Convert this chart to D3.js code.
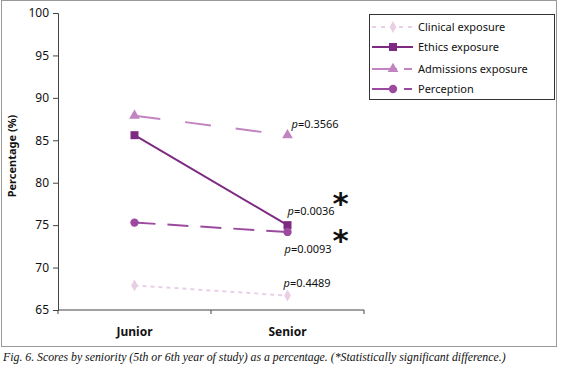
<!DOCTYPE html>
<html lang="en">
<head>
    <meta charset="UTF-8">
    <title>Scores by seniority</title>
    <script src="https://d3js.org/d3.v7.min.js"></script>
    <style>
        body {
            margin: 0;
            background: #fff;
            font-family: "Noto Sans", Arial, sans-serif;
        }
        .caption {
            font-family: "Liberation Serif", "DejaVu Serif", serif;
            font-style: italic;
            font-size: 11.8px;
        }
    </style>
</head>
<body>
    <div id="chart"></div>
    <script>
        // Data
        const groups = ["Junior", "Senior"];
        const seriesNames = ["Clinical exposure", "Ethics exposure", "Admissions exposure", "Perception"];
        const clinical = [67.9, 66.7];
        const ethics = [85.6, 75.0];
        const admissions = [87.9, 85.6];
        const perception = [75.3, 74.2];
        const pValues = ["0.4489", "0.0036", "0.3566", "0.0093"];
        const significant = [false, true, false, true];
        const yTicks = [65, 70, 75, 80, 85, 90, 95, 100];

        const series = [
            { name: seriesNames[0], values: clinical, color: "#e8cfe5", dash: "4,4", legendDash: "4,5", symbol: d3.symbolDiamond, size: 40, width: 2 },
            { name: seriesNames[1], values: ethics, color: "#7d2a82", dash: null, legendDash: null, symbol: d3.symbolSquare, size: 64, width: 2 },
            { name: seriesNames[2], values: admissions, color: "#c184c1", dash: "26,25", legendDash: "25,7,8", symbol: d3.symbolTriangle, size: 50, width: 2 },
            { name: seriesNames[3], values: perception, color: "#9c4a9f", dash: "21,12", legendDash: "25,7,8", symbol: d3.symbolCircle, size: 55, width: 2 }
        ];

        const W = 562, H = 371;
        const margin = { top: 13, left: 58, right: 198, bottom: 61 };
        const plotW = W - margin.left - margin.right;  // 306
        const plotH = H - margin.top - margin.bottom;  // 297

        const svg = d3.select("#chart").append("svg")
            .attr("width", W)
            .attr("height", H);

        // outer frame
        svg.append("rect")
            .attr("x", 1.5).attr("y", 0.5)
            .attr("width", 555).attr("height", 346)
            .attr("fill", "none")
            .attr("stroke", "#999")
            .attr("stroke-width", 1);

        const g = svg.append("g")
            .attr("transform", `translate(${margin.left},${margin.top})`);

        const x = d3.scaleBand().domain(groups).range([0, plotW]);
        const y = d3.scaleLinear().domain([65, 100]).range([plotH, 0]);
        const cx = d => x(d) + x.bandwidth() / 2;

        // y axis
        const yAxis = g.append("g")
            .call(d3.axisLeft(y).tickValues(yTicks).tickSize(5).tickPadding(4));
        yAxis.select(".domain").attr("stroke", "#444");
        yAxis.selectAll(".tick line").attr("stroke", "#444");
        yAxis.selectAll("text")
            .style("font-family", "'Noto Sans', sans-serif")
            .style("font-size", "12px")
            .attr("fill", "#111");

        // x axis: ticks at band boundaries
        const xAxis = g.append("g")
            .attr("transform", `translate(0,${plotH})`);
        xAxis.append("line")
            .attr("x1", 0).attr("x2", plotW)
            .attr("stroke", "#444");
        const bounds = [0, ...groups.map(d => x(d) + x.bandwidth())];
        xAxis.selectAll(".btick")
            .data(bounds)
            .enter().append("line")
            .attr("x1", d => d).attr("x2", d => d)
            .attr("y1", 0).attr("y2", 4)
            .attr("stroke", "#444");
        xAxis.selectAll(".xlabel")
            .data(groups)
            .enter().append("text")
            .attr("x", d => cx(d))
            .attr("y", 26)
            .attr("text-anchor", "middle")
            .style("font-size", "12px")
            .style("font-weight", "bold")
            .attr("fill", "#111")
            .text(d => d);

        // y label
        g.append("text")
            .attr("transform", "rotate(-90)")
            .attr("x", -143)
            .attr("y", -42)
            .attr("text-anchor", "middle")
            .style("font-size", "11px")
            .style("font-weight", "bold")
            .attr("fill", "#111")
            .text("Percentage (%)");

        // lines and markers
        const line = d3.line()
            .x((d, i) => cx(groups[i]))
            .y(d => y(d));

        series.forEach(s => {
            g.append("path")
                .datum(s.values)
                .attr("d", line)
                .attr("fill", "none")
                .attr("stroke", s.color)
                .attr("stroke-width", s.width)
                .attr("stroke-dasharray", s.dash);
            g.selectAll(null)
                .data(s.values)
                .enter().append("path")
                .attr("d", d3.symbol().type(s.symbol).size(s.size))
                .attr("transform", (d, i) => `translate(${cx(groups[i])},${y(d)})`)
                .attr("fill", s.color);
        });

        // p-value annotations at Senior
        const pOffsets = [[-4, -9], [0, -10], [4, -7], [-3, 21]];
        series.forEach((s, i) => {
            const px = cx("Senior") + pOffsets[i][0];
            const py = y(s.values[1]) + pOffsets[i][1];
            const t = g.append("text")
                .attr("x", px)
                .attr("y", py)
                .style("font-size", "11px")
                .attr("fill", "#111");
            t.append("tspan").style("font-style", "italic").text("p");
            t.append("tspan").text("=" + pValues[i]);
            if (significant[i]) {
                g.append("text")
                    .attr("x", cx("Senior") + 45)
                    .attr("y", py - 1.5)
                    .style("font-size", "31px")
                    .style("font-weight", "bold")
                    .style("font-family", "'DejaVu Sans', sans-serif")
                    .attr("fill", "#111")
                    .text("*");
            }
        });

        // legend
        const legend = svg.append("g").attr("transform", "translate(369,14)");
        legend.append("rect")
            .attr("x", 0.5).attr("y", 0.5)
            .attr("width", 185).attr("height", 85)
            .attr("fill", "#fff")
            .attr("stroke", "#333");
        const rowY = [13, 33, 55, 75];
        series.forEach((s, i) => {
            const row = legend.append("g").attr("transform", `translate(0,${rowY[i]})`);
            row.append("line")
                .attr("x1", 3).attr("x2", 44)
                .attr("stroke", s.color)
                .attr("stroke-width", s.width)
                .attr("stroke-dasharray", s.legendDash);
            row.append("path")
                .attr("d", d3.symbol().type(s.symbol).size(s.size))
                .attr("transform", "translate(24,0)")
                .attr("fill", s.color);
            row.append("text")
                .attr("x", 49)
                .attr("y", 4)
                .style("font-size", "11px")
                .attr("fill", "#111")
                .text(s.name);
        });

        // caption
        svg.append("text")
            .attr("class", "caption")
            .attr("x", 3)
            .attr("y", 361)
            .attr("fill", "#111")
            .text("Fig. 6. Scores by seniority (5th or 6th year of study) as a percentage. (*Statistically significant difference.)");
    </script>
</body>
</html>
